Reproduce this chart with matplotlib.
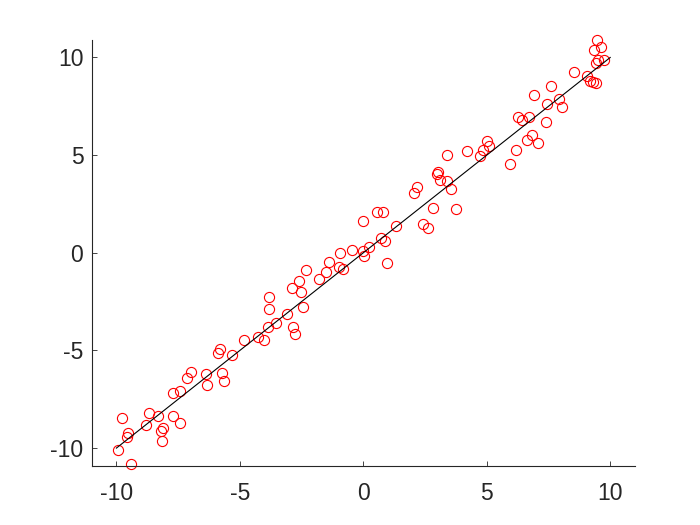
import matplotlib
matplotlib.use("Agg")
import matplotlib.pyplot as plt

plt.rcParams['font.family'] = ['Liberation Sans', 'DejaVu Sans']
plt.rcParams['axes.unicode_minus'] = False

x_data = [-9.93, -9.76, -9.54, -9.56, -9.39, -8.79, -8.68, -8.31, -8.16, -8.20,
          -8.11, -7.72, -7.42, -7.72, -7.42, -7.16, -6.96, -6.38, -6.35, -5.73,
          -5.66, -5.88, -5.82, -5.32, -4.85, -4.28, -4.03, -3.87, -3.52, -3.09,
          -2.85, -2.75, -3.81, -3.81, -2.45, -2.87, -2.60, -2.53, -2.31, -1.80,
          -1.51, -1.37, -0.96, -0.97, -0.84, -0.44, 0.00, 0.01, 0.25, 0.97,
          0.70, 0.89, 1.31, 0.00, 0.54, 0.80, 2.42, 2.62, 2.82, 3.74,
          2.05, 2.18, 3.03, 3.00, 3.12, 3.41, 3.54, 3.41, 4.18, 4.72,
          4.85, 5.00, 5.10, 5.96, 6.17, 6.65, 6.83, 7.09, 7.38, 6.26,
          6.42, 6.73, 6.91, 7.43, 7.60, 7.91, 8.06, 8.54, 9.05, 9.17,
          9.30, 9.41, 9.45, 9.36, 9.63, 9.41, 9.52, 9.74]
y_data = [-10.11, -8.45, -9.25, -9.43, -10.82, -8.83, -8.21, -8.35, -9.63, -9.11,
          -8.97, -8.35, -8.70, -7.17, -7.09, -6.40, -6.08, -6.23, -6.76, -6.18,
          -6.55, -5.14, -4.95, -5.24, -4.48, -4.31, -4.44, -3.81, -3.62, -3.11,
          -3.81, -4.18, -2.87, -2.25, -2.80, -1.79, -1.47, -2.03, -0.90, -1.33,
          -0.99, -0.45, 0.00, -0.75, -0.83, 0.13, 0.08, -0.17, 0.29, -0.51,
          0.77, 0.59, 1.36, 1.65, 2.08, 2.08, 1.45, 1.28, 2.28, 2.22,
          3.07, 3.38, 4.13, 4.01, 3.75, 3.67, 3.29, 5.03, 5.20, 4.95,
          5.25, 5.70, 5.49, 4.56, 5.24, 5.77, 6.01, 5.60, 6.72, 6.94,
          6.81, 6.96, 8.09, 7.64, 8.53, 7.86, 7.46, 9.25, 9.05, 8.82,
          8.75, 8.69, 10.87, 10.39, 10.52, 9.74, 9.87, 9.85]
line_x = [-10, 10]
line_y = [-10, 10]
tick_vals = [-10, -5, 0, 5, 10]

fig = plt.figure(figsize=(7, 5.25), dpi=100)
ax = fig.add_axes([0.131, 0.113, 0.776, 0.811])
ax.plot(x_data, y_data, linestyle='none', marker='o', markersize=7.3,
        markerfacecolor='none', markeredgecolor='#ff0000', markeredgewidth=0.8,
        clip_on=False)
ax.plot(line_x, line_y, color='black', linewidth=0.8)

ax.set_xlim(-11, 11)
ax.set_ylim(-10.9, 10.9)
ax.set_xticks(tick_vals)
ax.set_yticks(tick_vals)
ax.spines['top'].set_visible(False)
ax.spines['right'].set_visible(False)
for s in ['left', 'bottom']:
    ax.spines[s].set_color('#262626')
    ax.spines[s].set_linewidth(0.8)
ax.tick_params(direction='in', length=3.5, width=0.6, colors='#262626',
               labelsize=16.5, pad=6)
ax.tick_params(axis='x', pad=12)

fig.savefig('out.png', dpi=100)
